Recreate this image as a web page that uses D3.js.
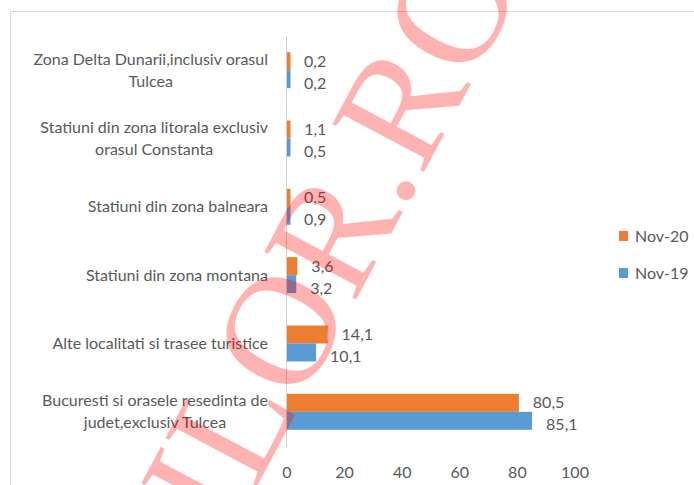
<!DOCTYPE html>
<html>
<head>
<meta charset="utf-8">
<script src="https://cdn.jsdelivr.net/npm/d3@7"></script>
<style>
  body { margin: 0; background: #fff; }
  text.lbl { font-family: Lato, "Open Sans", sans-serif; }
  text.wm { font-family: "Liberation Serif", "DejaVu Serif", serif; }
</style>
</head>
<body>
<div id="chart"></div>
<script>
// chart size
const width = 694
const height = 485

// data
const categories = [
    ["Zona Delta Dunarii,inclusiv  orasul", "Tulcea"],
    ["Statiuni din zona litorala exclusiv", "orasul Constanta"],
    ["Statiuni din zona balneara"],
    ["Statiuni din zona montana"],
    ["Alte localitati si trasee turistice"],
    ["Bucuresti si orasele resedinta de", "judet,exclusiv Tulcea"]
]
const series = ["Nov-20", "Nov-19"]
const nov20 = [0.2, 1.1, 0.5, 3.6, 14.1, 80.5]
const nov19 = [0.2, 0.5, 0.9, 3.2, 10.1, 85.1]
const xTicks = [0, 20, 40, 60, 80, 100]

const colors = { "Nov-20": "#ED7D31", "Nov-19": "#5B9BD5" }
const textColor = "#595959"
const fs = 16

const rows = categories.map((c, i) => ({ id: i, lines: c, values: { "Nov-20": nov20[i], "Nov-19": nov19[i] } }))

const svg = d3.select("#chart")
    .append("svg")
    .attr("width", width)
    .attr("height", height)

// chart area border (light grey frame, cut by the window)
svg.append("path")
    .attr("d", "M10.5," + height + " V11.5 H" + width)
    .attr("fill", "none")
    .attr("stroke", "#d9d9d9")
    .attr("stroke-width", 1)

const x = d3.scaleLinear().domain([0, 100]).range([287, 575])
const y = d3.scaleBand()
    .domain(rows.map(d => d.id))
    .range([36, 446])
    .paddingInner(0.474)
    .paddingOuter(0.237)
const y1 = d3.scaleBand().domain(series).range([0, y.bandwidth()])

// bars
const groups = svg.append("g")
    .selectAll("g")
    .data(rows)
    .join("g")
    .attr("transform", d => "translate(0," + y(d.id) + ")")

groups.selectAll("rect")
    .data(d => series.map(s => ({ s: s, v: d.values[s] })))
    .join("rect")
    .attr("x", x(0))
    .attr("y", d => y1(d.s))
    .attr("width", d => Math.max(x(d.v) - x(0), 3.5)) // tiny values still visible
    .attr("height", y1.bandwidth())
    .attr("fill", d => colors[d.s])

// value labels
groups.selectAll("text.val")
    .data(d => series.map(s => ({ s: s, v: d.values[s] })))
    .join("text")
    .attr("class", "val lbl")
    .attr("x", d => Math.max(x(d.v), x(0) + 3) + 14)
    .attr("y", d => y1(d.s) + y1.bandwidth() / 2 + (d.s == "Nov-19" ? 4 : 0))
    .attr("dy", "0.35em")
    .attr("font-size", fs)
    .attr("fill", textColor)
    .text(d => d3.format(".1f")(d.v).replace(".", ","))

// vertical axis line
svg.append("line")
    .attr("x1", x(0) - 0.5).attr("x2", x(0) - 0.5)
    .attr("y1", 36).attr("y2", 447)
    .attr("stroke", "#d0d0d0")

// category labels, block right aligned, lines centred in the block
const catG = svg.append("g")
rows.forEach(function (d) {
    const cy = y(d.id) + y.bandwidth() / 2
    const lh = 22
    const t = catG.append("text")
        .attr("class", "lbl")
        .attr("font-size", fs)
        .attr("fill", textColor)
        .attr("text-anchor", "middle")
    d.lines.forEach(function (line, i) {
        t.append("tspan")
            .attr("y", cy + (i - (d.lines.length - 1) / 2) * lh)
            .attr("dy", "0.35em")
            .text(line)
    })
    let maxW = 0
    t.selectAll("tspan").each(function () { maxW = Math.max(maxW, this.getComputedTextLength()) })
    t.selectAll("tspan").attr("x", 268 - maxW / 2)
})

// x axis tick labels
svg.append("g")
    .selectAll("text")
    .data(xTicks)
    .join("text")
    .attr("class", "lbl")
    .attr("x", d => x(d))
    .attr("y", 472)
    .attr("dy", "0.35em")
    .attr("text-anchor", "middle")
    .attr("font-size", fs)
    .attr("fill", textColor)
    .text(d => d)

// legend
const legend = svg.append("g")
    .selectAll("g")
    .data(series)
    .join("g")
    .attr("transform", (d, i) => "translate(619," + (236 + i * 37) + ")")
legend.append("rect")
    .attr("x", 0).attr("y", -5)
    .attr("width", 9).attr("height", 10)
    .attr("fill", d => colors[d])
legend.append("text")
    .attr("class", "lbl")
    .attr("x", 16)
    .attr("dy", "0.35em")
    .attr("font-size", fs)
    .attr("fill", textColor)
    .text(d => d)

// watermark on top
svg.append("text")
    .attr("class", "wm")
    .attr("transform", "translate(230,537) rotate(-62)")
    .attr("font-size", 158)
    .attr("fill", "red")
    .attr("fill-opacity", 0.3)
    .text("ILOR.RO")
</script>
</body>
</html>
